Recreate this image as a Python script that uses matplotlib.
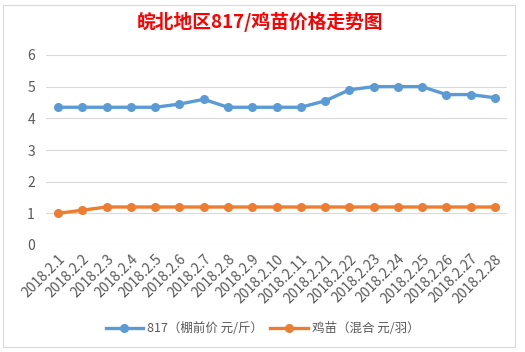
import matplotlib
matplotlib.use("Agg")
import matplotlib.pyplot as plt
from matplotlib.patches import Rectangle

plt.rcParams['font.family'] = ['Noto Sans CJK SC', 'DejaVu Sans']

categories = ["2018.2.1", "2018.2.2", "2018.2.3", "2018.2.4", "2018.2.5", "2018.2.6",
              "2018.2.7", "2018.2.8", "2018.2.9", "2018.2.10", "2018.2.11", "2018.2.21",
              "2018.2.22", "2018.2.23", "2018.2.24", "2018.2.25", "2018.2.26", "2018.2.27",
              "2018.2.28"]
price_817 = [4.35, 4.35, 4.35, 4.35, 4.35, 4.45, 4.6, 4.35, 4.35, 4.35, 4.35, 4.55,
             4.9, 5.0, 5.0, 5.0, 4.75, 4.75, 4.65]
price_chick = [1.0, 1.1, 1.2, 1.2, 1.2, 1.2, 1.2, 1.2, 1.2, 1.2, 1.2, 1.2,
               1.2, 1.2, 1.2, 1.2, 1.2, 1.2, 1.2]
label_817 = "817（棚前价 元/斤）"
label_chick = "鸡苗（混合 元/羽）"
title = "皖北地区817/鸡苗价格走势图"
yticks = [0, 1, 2, 3, 4, 5, 6]

W, H = 525, 352
fig = plt.figure(figsize=(W / 100, H / 100), dpi=100)
fig.patch.set_facecolor("white")

# chart border
fig.add_artist(Rectangle((3 / W, 1 - 347 / H), 512 / W, 342 / H, transform=fig.transFigure,
                         fill=False, edgecolor="#D9D9D9", linewidth=0.8))

ax = fig.add_axes([46 / W, 1 - 245 / H, 461 / W, 190 / H])
x = list(range(len(categories)))
ax.plot(x, price_817, color="#5B9BD5", linewidth=2.4, marker="o", markersize=5.5, label=label_817)
ax.plot(x, price_chick, color="#ED7D31", linewidth=2.4, marker="o", markersize=5.5, label=label_chick)

ax.set_xlim(-0.5, len(categories) - 0.5)
ax.set_ylim(0, 6)
ax.set_yticks(yticks)
ax.set_xticks(x)
ax.set_xticklabels(categories, rotation=45, ha="right", rotation_mode="anchor")
ax.tick_params(axis="both", length=0, labelsize=10, colors="#595959", pad=8)
ax.tick_params(axis="x", pad=5)
ax.grid(axis="y", color="#D9D9D9", linewidth=0.8)
ax.set_axisbelow(True)
for s in ax.spines.values():
    s.set_visible(False)

fig.text(0.495, 1 - 22 / H, title, color="#FF0000", fontsize=13.5, fontweight="bold",
         ha="center", va="center")

leg = fig.legend(loc="center", bbox_to_anchor=(0.5, 1 - 329 / H), ncol=2, frameon=False,
                 fontsize=9, handlelength=3, columnspacing=0.6, handletextpad=0.3)
for t in leg.get_texts():
    t.set_color("#595959")

fig.savefig("out.png", dpi=100, facecolor="white")
